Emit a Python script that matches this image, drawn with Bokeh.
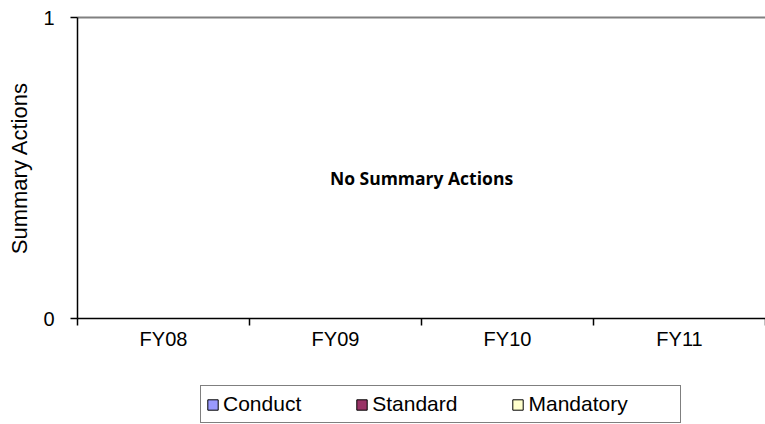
from bokeh.plotting import figure
from bokeh.layouts import column
from bokeh.models import (ColumnDataSource, FactorRange, Range1d, LinearAxis,
                          FixedTicker, Legend, LegendItem, Label)
from bokeh.embed import file_html
from bokeh.resources import INLINE

# ---- data ----
categories = ["FY08", "FY09", "FY10", "FY11"]
conduct = [0, 0, 0, 0]
standard = [0, 0, 0, 0]
mandatory = [0, 0, 0, 0]
series_names = ["Conduct", "Standard", "Mandatory"]
series_colors = ["#9999FF", "#993366", "#FFFFCC"]
y_ticks = [0, 1]
y_axis_title = "Summary Actions"
empty_message = "No Summary Actions"

FONT = "Liberation Sans"
W = 765

source = ColumnDataSource(dict(cat=categories, Conduct=conduct, Standard=standard, Mandatory=mandatory))

# ---------------- main chart ----------------
p = figure(width=W, height=360, x_range=FactorRange(factors=categories),
           y_range=Range1d(0, 1), output_backend="svg", toolbar_location=None,
           x_axis_location=None, y_axis_location=None)
p.min_border_left = 77
p.min_border_right = 0
p.min_border_top = 17
p.min_border_bottom = 42
p.outline_line_color = None
p.xgrid.grid_line_color = None
p.ygrid.grid_line_color = None

p.vbar_stack(series_names, x="cat", width=0.5, color=series_colors,
             line_color="#000000", line_width=1, source=source)

# y axis
yax = LinearAxis(ticker=FixedTicker(ticks=y_ticks), axis_label=y_axis_title)
yax.axis_line_color = "black"
yax.axis_line_width = 1.5
yax.major_tick_out = 7
yax.major_tick_in = 0
yax.major_tick_line_width = 1.5
yax.minor_tick_line_color = None
yax.major_label_text_font = FONT
yax.major_label_text_font_size = "20px"
yax.major_label_text_color = "black"
yax.major_label_standoff = 16
yax.axis_label_text_font = FONT
yax.axis_label_text_font_size = "22px"
yax.axis_label_text_font_style = "normal"
yax.axis_label_text_color = "black"
yax.axis_label_standoff = 8
p.add_layout(yax, "left")

# x axis: labels at category centres, tick marks at category boundaries
centres = [i + 0.5 for i in range(len(categories))]
bounds = list(range(len(categories) + 1))
xax = LinearAxis(ticker=FixedTicker(ticks=centres, minor_ticks=bounds),
                 major_label_overrides={c: lab for c, lab in zip(centres, categories)})
xax.axis_line_color = "black"
xax.axis_line_width = 1.5
xax.major_tick_line_color = None
xax.major_tick_out = 0
xax.major_tick_in = 0
xax.minor_tick_line_color = "black"
xax.minor_tick_line_width = 1.5
xax.minor_tick_out = 7
xax.minor_tick_in = 0
xax.major_label_text_font = FONT
xax.major_label_text_font_size = "20px"
xax.major_label_text_color = "black"
xax.major_label_standoff = 2
p.add_layout(xax, "below")

# top border line (gridline at the maximum)
top = LinearAxis(ticker=FixedTicker(ticks=[]))
top.axis_line_color = "#808080"
top.axis_line_width = 2
top.major_tick_line_color = None
top.minor_tick_line_color = None
top.major_tick_out = 0
top.major_label_standoff = 0
p.add_layout(top, "above")

p.add_layout(Label(x=len(categories) / 2, y=0.467, text=empty_message,
                   text_font="Open Sans", text_font_style="bold", text_font_size="17.5px",
                   text_align="center", text_baseline="middle", text_color="black"))

# ---------------- legend strip ----------------
q = figure(width=W, height=64, x_range=FactorRange(factors=categories),
           y_range=Range1d(1, 2), output_backend="svg", toolbar_location=None,
           x_axis_location=None, y_axis_location=None)
q.min_border_left = 77
q.min_border_right = 0
q.min_border_top = 0
q.min_border_bottom = 0
q.outline_line_color = None
q.xgrid.grid_line_color = None
q.ygrid.grid_line_color = None

leg_renderers = q.vbar_stack(series_names, x="cat", width=0.5, color=series_colors,
                             line_color="#000000", line_width=1, source=source)
ghost = q.vbar(x=[], top=[], width=0.5, fill_alpha=0, line_alpha=0)

box = Legend(items=[LegendItem(label=" ", renderers=[ghost])], location=(123, 1),
             orientation="horizontal", padding=5, margin=0, glyph_width=13, glyph_height=13,
             label_height=26, label_width=456, label_standoff=0,
             border_line_color="black", border_line_width=1, background_fill_color="white",
             label_text_font=FONT, label_text_font_size="21px")
q.add_layout(box, "center")

legend = Legend(items=[LegendItem(label=n, renderers=[r]) for n, r in zip(series_names, leg_renderers)],
                location=(129, 7), orientation="horizontal", padding=6, margin=0, spacing=54,
                glyph_width=13, glyph_height=13, label_height=26, label_standoff=4,
                border_line_color=None, background_fill_alpha=0,
                label_text_font=FONT, label_text_font_size="21px", label_text_color="black")
q.add_layout(legend, "center")

layout = column(p, q, spacing=0)

open("out.html", "w").write(file_html(layout, INLINE))
